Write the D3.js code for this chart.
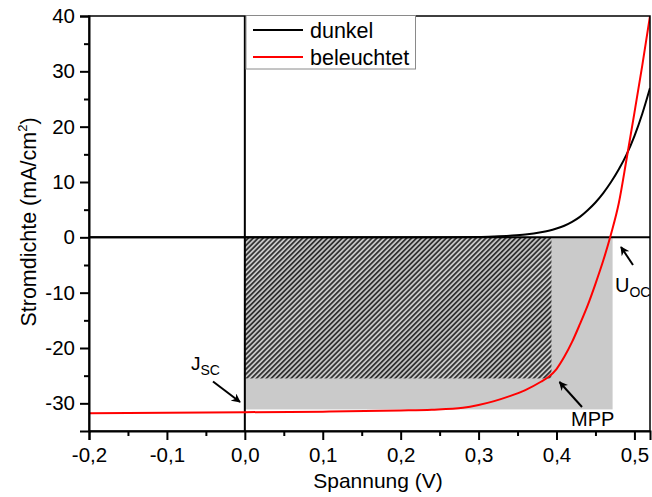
<!DOCTYPE html>
<html>
<head>
<meta charset="utf-8">
<script src="https://cdn.jsdelivr.net/npm/d3@7/dist/d3.min.js"></script>
<style>
  html, body { margin: 0; padding: 0; background: #fff; }
  svg { display: block; }
  text { font-family: "Liberation Sans", Arial, sans-serif; fill: #000; }
</style>
</head>
<body>
<svg id="chart" width="652" height="497"></svg>
<script>
// ---- data ----
const darkV = [-0.2, 0.0, 0.2, 0.25, 0.3, 0.32, 0.34, 0.36, 0.38, 0.39, 0.40, 0.41, 0.42, 0.43, 0.44, 0.45, 0.46, 0.47, 0.48, 0.49, 0.50, 0.51, 0.52];
const darkJ = [0, 0, 0, 0.02, 0.08, 0.17, 0.3, 0.5, 0.9, 1.2, 1.6, 2.1, 2.8, 3.7, 4.9, 6.3, 8.0, 10.0, 12.3, 15.0, 18.3, 22.3, 27.0];
const lightV = [-0.2, -0.1, 0.0, 0.1, 0.2, 0.24, 0.28, 0.30, 0.32, 0.34, 0.36, 0.38, 0.39, 0.40, 0.41, 0.42, 0.43, 0.44, 0.45, 0.46, 0.47, 0.48, 0.49, 0.50, 0.51, 0.52];
const lightJ = [-31.8, -31.7, -31.6, -31.5, -31.3, -31.15, -30.8, -30.3, -29.6, -28.7, -27.6, -26.1, -25.2, -23.8, -21.6, -18.9, -15.7, -12.3, -8.4, -4.2, 0.6, 6.2, 14.2, 22.5, 31.0, 40.0];
const seriesNames = ["dunkel", "beleuchtet"];
const seriesColors = ["#000000", "#ff0000"];
const xTicks = [-0.2, -0.1, 0.0, 0.1, 0.2, 0.3, 0.4, 0.5];
const xMinorTicks = [-0.15, -0.05, 0.05, 0.15, 0.25, 0.35, 0.45];
const yTicks = [-30, -20, -10, 0, 10, 20, 30, 40];
const yMinorTicks = [-25, -15, -5, 5, 15, 25, 35];
const Voc = 0.472, JscRect = -31.1;   // outer (grey) rectangle corner
const Vmpp = 0.3935, Jmpp = -25.5;    // MPP rectangle corner
const xTitle = "Spannung (V)";
const yTitle = "Stromdichte (mA/cm";

// ---- layout ----
const svg = d3.select("#chart");
const L = 89, R = 650, T = 16, B = 431;
const x = d3.scaleLinear().domain([-0.2, 0.52]).range([L, R]);
const y = d3.scaleLinear().domain([-35, 40]).range([B, T]);
const fmtX = v => d3.format(".1f")(v).replace(".", ",").replace("\u2212", "-");
const fmtY = v => String(v);

const defs = svg.append("defs");
const pat = defs.append("pattern").attr("id", "hatch")
  .attr("patternUnits", "userSpaceOnUse").attr("width", 3.5).attr("height", 3.5)
  .attr("patternTransform", "rotate(45)");
pat.append("rect").attr("width", 3.5).attr("height", 3.5).attr("fill", "#c9c9c9");
pat.append("line").attr("x1", 0.9).attr("y1", 0).attr("x2", 0.9).attr("y2", 3.5)
  .attr("stroke", "#333").attr("stroke-width", 1.8);

const clip = defs.append("clipPath").attr("id", "plotclip");
clip.append("rect").attr("x", L).attr("y", T).attr("width", R - L).attr("height", B - T);

const g = svg.append("g");

// shaded rectangles
g.append("rect").attr("x", x(0)).attr("y", y(0))
  .attr("width", x(Voc) - x(0)).attr("height", y(JscRect) - y(0)).attr("fill", "#cacaca");
g.append("rect").attr("x", x(0)).attr("y", y(0))
  .attr("width", x(Vmpp) - x(0)).attr("height", y(Jmpp) - y(0)).attr("fill", "url(#hatch)");

// zero lines
g.append("line").attr("x1", L).attr("x2", R).attr("y1", y(0)).attr("y2", y(0))
  .attr("stroke", "#000").attr("stroke-width", 2);
g.append("line").attr("x1", x(0)).attr("x2", x(0)).attr("y1", T).attr("y2", B)
  .attr("stroke", "#000").attr("stroke-width", 2);

// curves
const line = d3.line().x(d => x(d[0])).y(d => y(d[1])).curve(d3.curveMonotoneX);
const series = [darkV.map((v, i) => [v, darkJ[i]]), lightV.map((v, i) => [v, lightJ[i]])];
series.forEach((s, i) => {
  g.append("path").datum(s).attr("d", line).attr("fill", "none")
    .attr("stroke", seriesColors[i]).attr("stroke-width", 2).attr("clip-path", "url(#plotclip)");
});

// frame
g.append("rect").attr("x", L).attr("y", T).attr("width", R - L).attr("height", B - T)
  .attr("fill", "none").attr("stroke", "#000").attr("stroke-width", 1.5);

// axes
const xAxis = svg.append("g").attr("transform", `translate(0,${B})`)
  .call(d3.axisBottom(x).tickValues(xTicks).tickFormat(fmtX).tickSize(9).tickPadding(7));
svg.append("g").attr("transform", `translate(0,${B})`)
  .call(d3.axisBottom(x).tickValues(xMinorTicks).tickFormat("").tickSize(5))
  .select(".domain").remove();
const yAxis = svg.append("g").attr("transform", `translate(${L},0)`)
  .call(d3.axisLeft(y).tickValues(yTicks).tickFormat(fmtY).tickSize(9).tickPadding(5));
svg.append("g").attr("transform", `translate(${L},0)`)
  .call(d3.axisLeft(y).tickValues(yMinorTicks).tickFormat("").tickSize(5))
  .select(".domain").remove();
svg.selectAll(".domain").attr("stroke-width", 2).attr("stroke", "#000");
svg.selectAll(".tick line").attr("stroke-width", 2).attr("stroke", "#000");
svg.selectAll(".tick text").attr("font-size", 20.5)
  .attr("font-family", "'Liberation Sans', Arial, sans-serif").attr("fill", "#000");
xAxis.selectAll(".tick text").attr("dy", "0.71em");

// axis titles
svg.append("text").attr("x", 378).attr("y", 488).attr("text-anchor", "middle")
  .attr("font-size", 21).text(xTitle);
const yt = svg.append("text").attr("transform", `translate(36,${222}) rotate(-90)`)
  .attr("text-anchor", "middle").attr("font-size", 21.5);
yt.append("tspan").text(yTitle);
yt.append("tspan").attr("font-size", 13).attr("dy", -9).text("2");
yt.append("tspan").attr("dy", 9).text(")");

// legend
const lg = svg.append("g");
lg.append("rect").attr("x", 246).attr("y", 15.5).attr("width", 169.5).attr("height", 53.5)
  .attr("fill", "#fff").attr("stroke", "#8a8a8a").attr("stroke-width", 1);
seriesNames.forEach((n, i) => {
  const yy = 30 + i * 27;
  lg.append("line").attr("x1", 253).attr("x2", 303).attr("y1", yy).attr("y2", yy)
    .attr("stroke", seriesColors[i]).attr("stroke-width", 2);
  lg.append("text").attr("x", 310).attr("y", yy + 7.5).attr("font-size", 21.5).text(n);
});

// annotations
const ann = svg.append("g");
defs.append("marker").attr("id", "arr").attr("viewBox", "0 0 10 10")
  .attr("refX", 9).attr("refY", 5).attr("markerWidth", 9).attr("markerHeight", 9)
  .attr("markerUnits", "userSpaceOnUse").attr("orient", "auto")
  .append("path").attr("d", "M0,0 L10,5 L0,10 L3,5 Z").attr("fill", "#000");
const arrows = [
  [213, 381.5, 240, 402],
  [633, 265, 621, 247],
  [582, 407, 559.5, 382]
];
arrows.forEach(a => {
  ann.append("line").attr("x1", a[0]).attr("y1", a[1]).attr("x2", a[2]).attr("y2", a[3])
    .attr("stroke", "#000").attr("stroke-width", 2).attr("marker-end", "url(#arr)");
});
const annFont = "'Open Sans', 'Noto Sans', sans-serif";
const j = ann.append("text").attr("x", 191).attr("y", 370).attr("font-family", annFont).attr("font-size", 19);
j.append("tspan").text("J");
j.append("tspan").attr("font-size", 14).attr("dy", 5).text("SC");
const u = ann.append("text").attr("x", 615).attr("y", 292).attr("font-family", annFont).attr("font-size", 20);
u.append("tspan").text("U");
u.append("tspan").attr("font-size", 14).attr("dy", 5).text("OC");
ann.append("text").attr("x", 571).attr("y", 426).attr("font-family", annFont).attr("font-size", 20).text("MPP");
</script>
</body>
</html>
